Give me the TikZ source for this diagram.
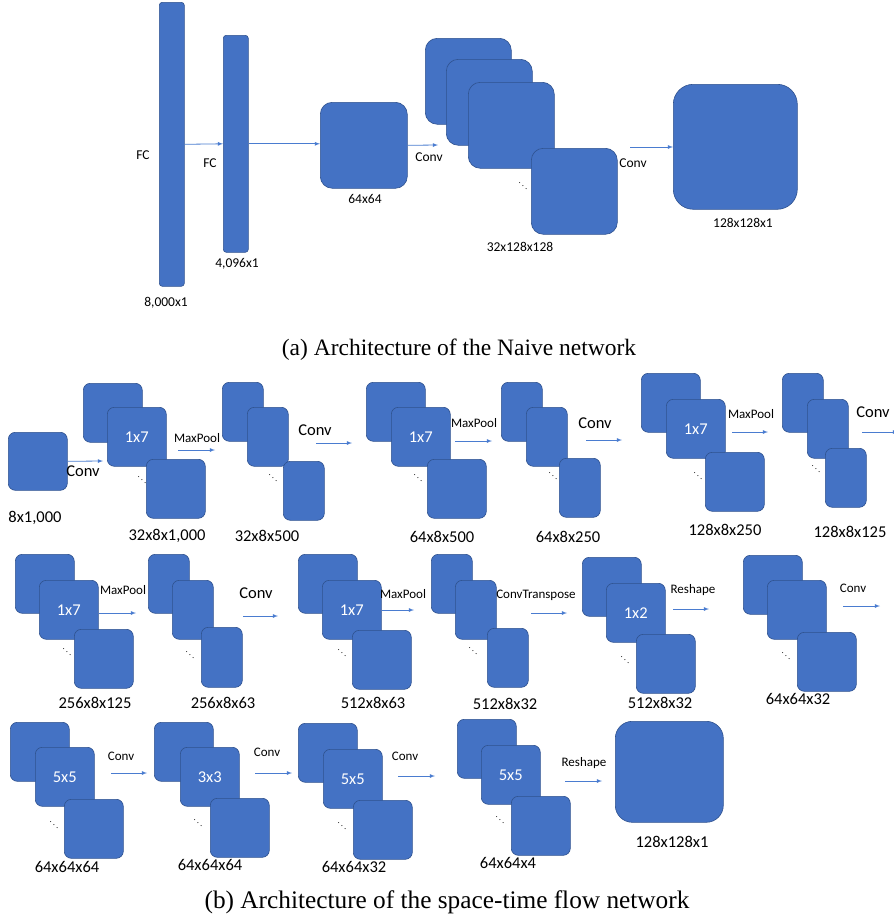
\documentclass[tikz,border=0pt]{standalone}
\usepackage{fontspec}
\setmainfont{Liberation Serif}
\newfontfamily\calib{Carlito}
\usepackage{xcolor}
\usetikzlibrary{arrows}
\definecolor{mapblue}{HTML}{4472C4}
\definecolor{mapedge}{HTML}{2F528F}
\definecolor{flowblue}{HTML}{4A7CD0}

\tikzset{
  fmap/.style={draw=mapedge, fill=mapblue, line width=0.6pt, rounded corners=7pt,
    anchor=north west, inner sep=0pt, minimum width=59pt, minimum height=59pt,
    text=white, font=\calib\fontsize{16.5}{18}\selectfont},
  narrow/.style={fmap, minimum width=41pt},
  flow/.style={-latex, draw=flowblue, line width=0.8pt},
  dims/.style={font=\calib\fontsize{16.5}{18}\selectfont},
  dimsa/.style={font=\calib\fontsize{13.5}{15}\selectfont},
  opsmall/.style={font=\calib\fontsize{13}{14}\selectfont},
  opbig/.style={font=\calib\fontsize{16.5}{18}\selectfont},
  etc/.style={font=\fontsize{9}{9}\selectfont, inner sep=0pt},
  capt/.style={anchor=base, font=\fontsize{23.5}{26}\selectfont}
}

\begin{document}
\begin{tikzpicture}[x=1pt, y=-1pt]
\useasboundingbox (0,0) rectangle (894,919);

% (a) naive network
\node[fmap, minimum width=25pt, minimum height=284pt, rounded corners=3pt] (fc1) at (159,2) {};
\node[fmap, minimum width=25pt, minimum height=217pt, rounded corners=3pt] (fc2) at (223,35) {};
\node[fmap, minimum width=87pt, minimum height=86pt, rounded corners=12pt] (img64) at (320,102) {};
\node[fmap, minimum width=86pt, minimum height=86pt, rounded corners=12pt] (s1) at (425,38) {};
\node[fmap, minimum width=86pt, minimum height=86pt, rounded corners=12pt] (s2) at (446,59) {};
\node[fmap, minimum width=86pt, minimum height=86pt, rounded corners=12pt] (s3) at (468,82) {};
\node[fmap, minimum width=86pt, minimum height=86pt, rounded corners=12pt] (s4) at (531,148) {};
\node[fmap, minimum width=124pt, minimum height=125pt, rounded corners=20pt] (outa) at (673,84) {};
\node[etc] (s-dots) at (523,183) {$\ddots$};

\coordinate (conva-e) at (438,145);
\coordinate (convb-s) at (630,147);
\draw[flow] (fc1.east) -- (fc2.west);
\draw[flow] (fc2.east) -- (fc2.east -| img64.west);
\draw[flow] (img64.east) -- (conva-e);
\draw[flow] (convb-s) -- (convb-s -| outa.west);

\node[dimsa] (fc1-op) at (143,155) {FC};
\node[dimsa] (fc2-op) at (210,163) {FC};
\node[dimsa] (fc1-lbl) at (166,303) {8,000x1};
\node[dimsa] (fc2-lbl) at (237,264) {4,096x1};
\node[dimsa] (img64-lbl) at (365,199) {64x64};
\node[dimsa] (conva) at (429,157) {Conv};
\node[dimsa] (s-lbl) at (520,247) {32x128x128};
\node[dimsa] (convb) at (633,163) {Conv};
\node[dimsa] (outa-lbl) at (743,223) {128x128x1};

\node[capt] (capa) at (459,355) {(a) Architecture of the Naive network};

% (b) space-time flow network, row 1
\node[fmap, minimum height=58pt] (in) at (8,432) {};
\node[dims] (in-lbl) at (35,518) {8x1,000};

\node[fmap] (a1) at (83,383) {};
\node[fmap] (a2) at (107,407) {1x7};
\node[fmap] (a3) at (146,459) {};
\node[etc] (a-dots) at (142,477) {$\ddots$};
\node[dims] (a-lbl) at (167,536) {32x8x1,000};

\node[narrow] (b1) at (222,382) {};
\node[narrow] (b2) at (247,407) {};
\node[narrow] (b3) at (283,461) {};
\node[etc] (b-dots) at (273,475) {$\ddots$};
\node[dims] (b-lbl) at (267,536) {32x8x500};

\node[fmap] (c1) at (366,382) {};
\node[fmap] (c2) at (391,407) {1x7};
\node[fmap] (c3) at (427,459) {};
\node[etc] (c-dots) at (418,475) {$\ddots$};
\node[dims] (c-lbl) at (442,537) {64x8x500};

\node[narrow] (d1) at (501,382) {};
\node[narrow] (d2) at (526,407) {};
\node[narrow] (d3) at (559,458) {};
\node[etc] (d-dots) at (553,473) {$\ddots$};
\node[dims] (d-lbl) at (568,537) {64x8x250};

\node[fmap] (e1) at (641,373) {};
\node[fmap] (e2) at (666,399) {1x7};
\node[fmap] (e3) at (705,452) {};
\node[etc] (e-dots) at (698,473) {$\ddots$};
\node[dims] (e-lbl) at (725,530) {128x8x250};

\node[narrow] (f1) at (782,373) {};
\node[narrow] (f2) at (807,399) {};
\node[narrow] (f3) at (825,448) {};
\node[etc] (f-dots) at (816,466) {$\ddots$};
\node[dims] (f-lbl) at (850,532) {128x8x125};

\node[opbig] (op1) at (83,471) {Conv};
\node[opsmall] (op2) at (197,438) {MaxPool};
\node[opbig] (op3) at (315,430) {Conv};
\node[opsmall] (op4) at (474,423) {MaxPool};
\node[opbig] (op5) at (595,423) {Conv};
\node[opsmall] (op6) at (751,414) {MaxPool};
\node[opbig] (op7) at (873,412) {Conv};

% row 2
\node[fmap] (g1) at (15,554) {};
\node[fmap] (g2) at (39,580) {1x7};
\node[fmap] (g3) at (74,629) {};
\node[etc] (g-dots) at (67,649) {$\ddots$};
\node[dims] (g-lbl) at (95,703) {256x8x125};

\node[narrow] (h1) at (148,554) {};
\node[narrow] (h2) at (172,580) {};
\node[narrow, minimum height=60pt] (h3) at (201,627) {};
\node[etc] (h-dots) at (190,652) {$\ddots$};
\node[dims] (h-lbl) at (223,703) {256x8x63};

\node[fmap] (i1) at (298,554) {};
\node[fmap] (i2) at (322,580) {1x7};
\node[fmap] (i3) at (352,630) {};
\node[etc] (i-dots) at (342,650) {$\ddots$};
\node[dims] (i-lbl) at (373,703) {512x8x63};

\node[narrow] (j1) at (431,554) {};
\node[narrow] (j2) at (455,580) {};
\node[narrow] (j3) at (487,628) {};
\node[etc] (j-dots) at (473,648) {$\ddots$};
\node[dims] (j-lbl) at (505,704) {512x8x32};

\node[fmap] (k1) at (582,557) {};
\node[fmap] (k2) at (606,583) {1x2};
\node[fmap] (k3) at (636,634) {};
\node[etc] (k-dots) at (625,657) {$\ddots$};
\node[dims] (k-lbl) at (660,703) {512x8x32};

\node[fmap] (l1) at (743,555) {};
\node[fmap] (l2) at (767,580) {};
\node[fmap] (l3) at (797,632) {};
\node[etc] (l-dots) at (786,653) {$\ddots$};
\node[dims] (l-lbl) at (798,699) {64x64x32};

\node[opsmall] (op8) at (123,590) {MaxPool};
\node[opbig] (op9) at (256,593) {Conv};
\node[opsmall] (op10) at (403,594) {MaxPool};
\node[opsmall] (op11) at (536,595) {ConvTranspose};
\node[opsmall] (op12) at (693,590) {Reshape};
\node[opsmall] (op13) at (853,588) {Conv};

% row 3
\node[fmap] (m1) at (10,722) {};
\node[fmap] (m2) at (35,747) {5x5};
\node[fmap] (m3) at (64,799) {};
\node[etc] (m-dots) at (54,822) {$\ddots$};
\node[dims] (m-lbl) at (67,867) {64x64x64};

\node[fmap] (n1) at (154,722) {};
\node[fmap] (n2) at (180,747) {3x3};
\node[fmap] (n3) at (210,798) {};
\node[etc] (n-dots) at (198,820) {$\ddots$};
\node[dims] (n-lbl) at (210,865) {64x64x64};

\node[fmap] (o1) at (298,723) {};
\node[fmap] (o2) at (323,749) {5x5};
\node[fmap] (o3) at (353,800) {};
\node[etc] (o-dots) at (342,823) {$\ddots$};
\node[dims] (o-lbl) at (354,867) {64x64x32};

\node[fmap] (p1) at (457,719) {};
\node[fmap] (p2) at (481,745) {5x5};
\node[fmap] (p3) at (511,796) {};
\node[etc] (p-dots) at (500,817) {$\ddots$};
\node[dims] (p-lbl) at (508,863) {64x64x4};

\node[fmap, minimum width=108pt, minimum height=101pt, rounded corners=17pt] (outb) at (615,721) {};
\node[dims] (outb-lbl) at (672,842) {128x128x1};

\node[opsmall] (op14) at (121,756) {Conv};
\node[opsmall] (op15) at (267,752) {Conv};
\node[opsmall] (op16) at (405,756) {Conv};
\node[opsmall] (op17) at (584,763) {Reshape};

% arrows of (b)
\draw[flow] (in.east) -- (103,461) coordinate (in-e);
\foreach \nm/\xa/\xb/\y in {r1b/178/215/450, r1c/316/352/443, r1d/455/492/441,
    r1e/586/622/440, r1f/732/768/432, r1g/862/898/432,
    r2a/99/136/613, r2b/243/278/616, r2c/382/414/610, r2d/531/567/613,
    r2e/673/709/609, r2f/843/880/606,
    r3a/111/147/773, r3b/255/292/773, r3c/398/435/776, r3d/565/602/781}{
  \coordinate (\nm-s) at (\xa,\y);
  \coordinate (\nm-e) at (\xb,\y);
  \draw[flow] (\nm-s) -- (\nm-e);
}

\node[capt, font=\fontsize{25.3}{28}\selectfont] (capb) at (447,908) {(b) Architecture of the space-time flow network};
\end{tikzpicture}
\end{document}
